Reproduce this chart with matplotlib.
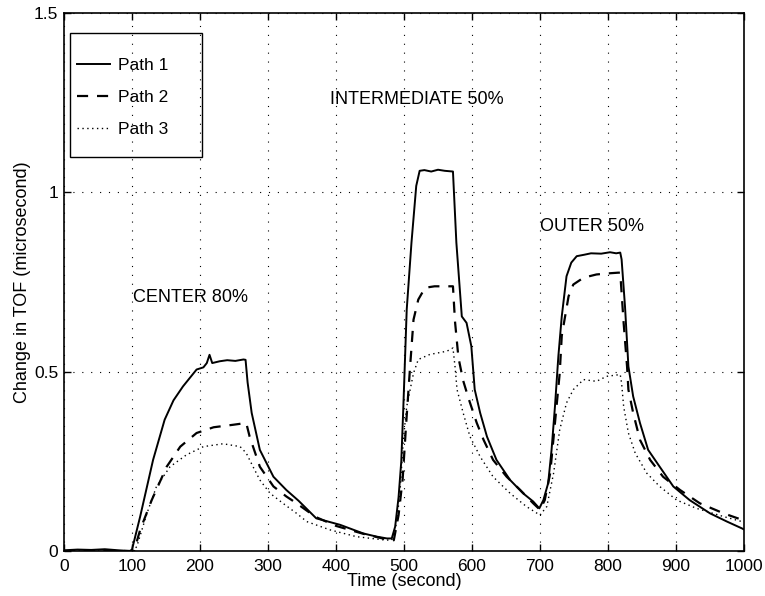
import matplotlib
matplotlib.use("Agg")
import matplotlib.pyplot as plt
from matplotlib.patches import Rectangle

plt.rcParams['font.family'] = ['Liberation Sans', 'DejaVu Sans']

# ---- data ----
path1_x = [0, 20, 40, 60, 80, 97, 100, 112, 131, 148, 161, 175, 195, 205, 210, 214, 218, 229,
           240, 252, 264, 267, 270, 276, 288, 308, 327, 345, 371, 406, 440, 460, 475, 482,
           487, 492, 496, 499, 504, 511, 518, 523, 530, 540, 550, 560, 572, 577, 585, 592,
           599, 604, 612, 622, 636, 656, 675, 690, 699, 705, 712, 717, 722, 727, 732, 739,
           746, 754, 765, 775, 790, 803, 812, 818, 820, 825, 830, 837, 847, 859, 876, 896,
           920, 950, 975, 997, 1000]
path1_y = [0.002, 0.004, 0.003, 0.005, 0.002, 0.0, 0.004, 0.096, 0.254, 0.366, 0.42, 0.459,
           0.506, 0.512, 0.524, 0.547, 0.524, 0.529, 0.532, 0.530, 0.534, 0.533, 0.47, 0.385,
           0.282, 0.207, 0.17, 0.14, 0.091, 0.073, 0.049, 0.04, 0.035, 0.035, 0.068, 0.15,
           0.25, 0.40, 0.673, 0.86, 1.018, 1.06, 1.062, 1.058, 1.063, 1.06, 1.058, 0.86,
           0.654, 0.636, 0.571, 0.45, 0.385, 0.319, 0.254, 0.198, 0.161, 0.138, 0.119, 0.142,
           0.189, 0.282, 0.403, 0.543, 0.654, 0.766, 0.804, 0.822, 0.826, 0.83, 0.829, 0.833,
           0.83, 0.832, 0.813, 0.682, 0.515, 0.431, 0.357, 0.282, 0.235, 0.18, 0.142, 0.105,
           0.082, 0.063, 0.06]

path2_x = [0, 50, 100, 103, 112, 129, 151, 171, 195, 220, 249, 268, 273, 288, 308, 327, 342,
           370, 400, 440, 475, 485, 492, 498, 503, 509, 514, 521, 531, 545, 560, 572, 575,
           580, 587, 595, 607, 617, 631, 651, 671, 690, 700, 707, 715, 722, 729, 732, 742,
           749, 764, 783, 800, 815, 818, 823, 828, 830, 837, 847, 862, 881, 906, 935, 970,
           997, 1000]
path2_y = [0.0, 0.0, 0.0, 0.0, 0.059, 0.142, 0.235, 0.291, 0.329, 0.345, 0.352, 0.357,
           0.319, 0.235, 0.18, 0.152, 0.133, 0.095, 0.07, 0.048, 0.032, 0.03, 0.1, 0.2,
           0.35, 0.515, 0.645, 0.701, 0.734, 0.738, 0.738, 0.738, 0.64, 0.54, 0.475, 0.425,
           0.357, 0.31, 0.254, 0.207, 0.17, 0.133, 0.115, 0.142, 0.217, 0.357, 0.496, 0.6,
           0.71, 0.743, 0.762, 0.771, 0.774, 0.776, 0.776, 0.636, 0.515, 0.45, 0.385, 0.31,
           0.254, 0.207, 0.17, 0.133, 0.105, 0.087, 0.085]

path3_x = [0, 50, 100, 107, 122, 136, 156, 180, 205, 234, 259, 268, 278, 288, 303, 322, 342,
           357, 391, 430, 470, 482, 489, 494, 499, 504, 514, 521, 538, 563, 572, 575, 578,
           587, 597, 612, 631, 656, 680, 700, 710, 720, 729, 739, 749, 764, 783, 798, 818,
           820, 823, 830, 840, 857, 876, 901, 930, 970, 997, 1000]
path3_y = [0.0, 0.0, 0.0, 0.012, 0.105, 0.18, 0.235, 0.268, 0.291, 0.299, 0.291, 0.273,
           0.235, 0.198, 0.161, 0.133, 0.105, 0.082, 0.059, 0.04, 0.031, 0.03, 0.077, 0.161,
           0.31, 0.403, 0.496, 0.534, 0.548, 0.557, 0.566, 0.515, 0.45, 0.385, 0.319, 0.263,
           0.207, 0.161, 0.124, 0.1, 0.124, 0.217, 0.338, 0.413, 0.45, 0.478, 0.473, 0.487,
           0.492, 0.468, 0.403, 0.329, 0.273, 0.217, 0.18, 0.142, 0.119, 0.096, 0.082, 0.08]

series_labels = ["Path 1", "Path 2", "Path 3"]
x_ticks = [0, 100, 200, 300, 400, 500, 600, 700, 800, 900, 1000]
y_ticks = [0, 0.5, 1, 1.5]
y_tick_labels = ["0", "0.5", "1", "1.5"]
annotations = [("CENTER 80%", 101, 0.707), ("INTERMEDIATE 50%", 391, 1.26), ("OUTER 50%", 700, 0.905)]

# ---- figure ----
fig = plt.figure(figsize=(7.65, 5.96), dpi=100)
ax = fig.add_axes([64 / 765, 45 / 596, 680 / 765, 538 / 596])

ax.plot(path1_x, path1_y, color='black', lw=1.4, ls='-', label=series_labels[0])
ax.plot(path2_x, path2_y, color='black', lw=1.6, ls=(0, (5, 4)), label=series_labels[1])
ax.plot(path3_x, path3_y, color='black', lw=1.0, ls=(0, (1, 2.5)), label=series_labels[2])

ax.set_xlim(0, 1000)
ax.set_ylim(0, 1.5)
ax.set_xticks(x_ticks)
ax.set_yticks(y_ticks)
ax.set_yticklabels(y_tick_labels)
ax.tick_params(direction='in', length=5, width=1, top=True, right=True, labelsize=12.5, pad=4)
ax.tick_params(axis='x', pad=6)
ax.grid(True, color='black', lw=0.8, ls=(0, (1, 7)))
for s in ax.spines.values():
    s.set_linewidth(1.2)

ax.set_xlabel("Time (second)", fontsize=13, labelpad=-1)
ax.set_ylabel("Change in TOF (microsecond)", fontsize=13, labelpad=2)

for txt, xx, yy in annotations:
    ax.text(xx, yy, txt, fontsize=13, ha='left', va='center')

# legend box (MATLAB style, drawn as a frame) and entries
box = Rectangle((0.0088, 0.732), 0.194, 0.231, transform=ax.transAxes,
                facecolor='none', edgecolor='black', lw=1.0, zorder=4)
ax.add_patch(box)
leg = ax.legend(loc='upper left', bbox_to_anchor=(0.019, 0.916), fontsize=12.5,
                frameon=False, borderpad=0, labelspacing=0.95, handlelength=1.9,
                handletextpad=0.46, borderaxespad=0)
leg.set_zorder(5)

fig.savefig("out.png", dpi=100)
